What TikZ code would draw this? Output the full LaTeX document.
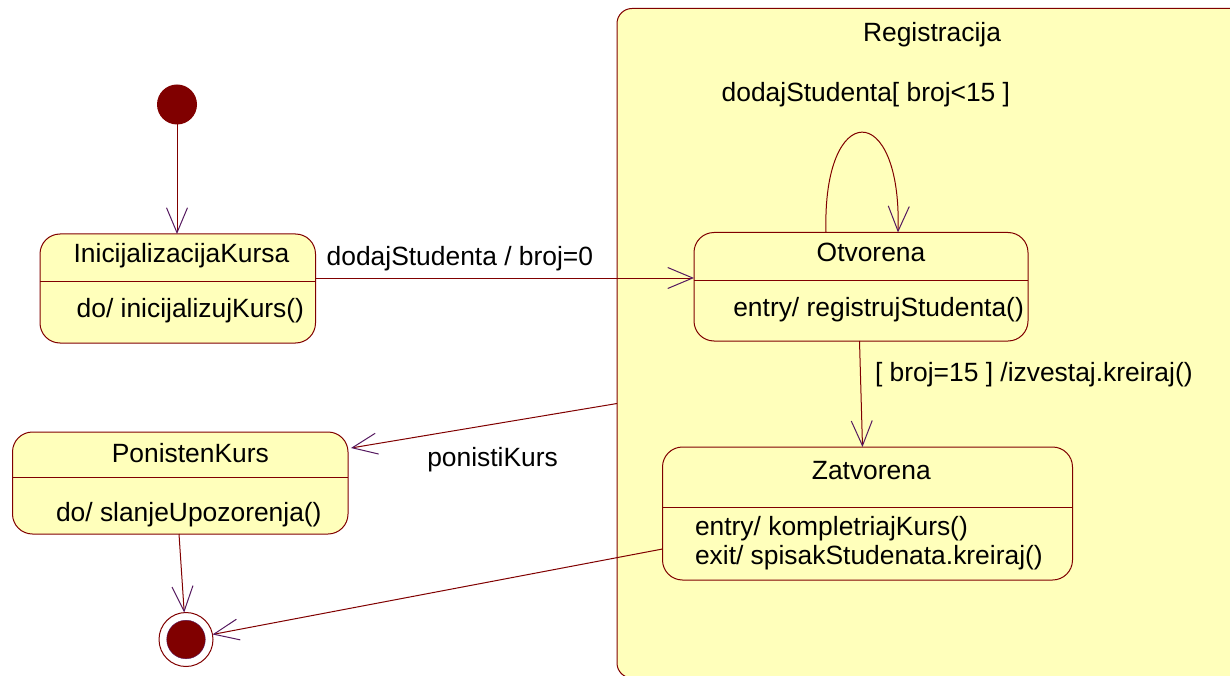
\documentclass[tikz,border=0pt]{standalone}
\usepackage{fontspec}
\setmainfont{Liberation Sans}
\usetikzlibrary{arrows.meta}

\definecolor{umlred}{RGB}{128,0,0}
\definecolor{umlfill}{RGB}{255,255,187}
\definecolor{tipcol}{RGB}{85,25,95}

\begin{document}
\begin{tikzpicture}[x=1pt, y=-1pt,
  txt/.style={inner sep=0, outer sep=0, font=\fontsize{26.4}{30}\selectfont},
  statebox/.style={draw=umlred, fill=umlfill, line width=1pt, rounded corners=20pt, outer sep=0},
  region/.style={draw=umlred, fill=umlfill, line width=1pt, rounded corners=15pt, outer sep=0},
  divider/.style={umlred, line width=1pt},
  trans/.style={umlred, line width=1pt, -{Straight Barb[length=25pt, width=21pt, color=tipcol]}}]
%% page frame
\useasboundingbox (0,0) rectangle (1230,676);
\clip (0,0) rectangle (1230,676);
%% composite state (runs off the page right and below)
\node[region, minimum width=633pt, minimum height=669.5pt] (reg) at (933.5,343.25) {};
\node[txt, anchor=base] (regname) at (932,42) {Registracija};
%% initial and final pseudo states
\node[circle, fill=umlred, minimum size=40pt, inner sep=0, outer sep=0] (start) at (177,104.5) {};
\node[circle, draw=umlred, fill=white, line width=1pt, minimum size=54pt, inner sep=0, outer sep=0] (end) at (186,639.5) {};
\filldraw[fill=umlred, draw=tipcol] (end.center) circle (19.3);
%% InicijalizacijaKursa
\node[statebox, minimum width=275.5pt, minimum height=109pt] (init) at (177.75,288.5) {};
\draw[divider] (init.west |- 0,281) -- (init.east |- 0,281);
\node[txt, anchor=base] (initname) at (181.5,262.3) {InicijalizacijaKursa};
\node[txt, anchor=base west] (initdo) at (76.7,317.3) {do/ inicijalizujKurs()};
%% Otvorena
\node[statebox, minimum width=334pt, minimum height=108.5pt] (otv) at (861,286.75) {};
\draw[divider] (otv.west |- 0,280) -- (otv.east |- 0,280);
\node[txt, anchor=base] (otvname) at (871,261.7) {Otvorena};
\node[txt, anchor=base west] (otventry) at (733.3,316) {entry/ registrujStudenta()};
%% Zatvorena
\node[statebox, minimum width=410pt, minimum height=133pt] (zat) at (867.5,513.5) {};
\draw[divider] (zat.west |- 0,507.5) -- (zat.east |- 0,507.5);
\node[txt, anchor=base] (zatname) at (871.3,479.3) {Zatvorena};
\node[txt, anchor=base west] (zatentry) at (695,535.7) {entry/ kompletriajKurs()};
\node[txt, anchor=base west] (zatexit) at (695,564) {exit/ spisakStudenata.kreiraj()};
%% PonistenKurs
\node[statebox, minimum width=335.5pt, minimum height=102pt] (pon) at (180.25,483) {};
\draw[divider] (pon.west |- 0,477) -- (pon.east |- 0,477);
\node[txt, anchor=base] (ponname) at (190.3,462.7) {PonistenKurs};
\node[txt, anchor=base west] (pondo) at (56,521.7) {do/ slanjeUpozorenja()};
%% transitions
\draw[trans] (start) -- (start |- init.north);
\draw[trans] (init.east |- 0,278) -- (otv.west |- 0,278);
\node[txt, anchor=base west] (lbladd) at (326.7,265.7) {dodajStudenta / broj=0};
\draw[trans] (otv.north -| 826,0) .. controls (822,99) and (902,99) .. (otv.north -| 898,0);
\node[txt, anchor=base west] (lblloop) at (721.7,101.7) {dodajStudenta[ broj<15 ]};
\draw[trans] (otv.south -| 859.5,0) -- (zat.north -| 862.5,0);
\node[txt, anchor=base west] (lblfull) at (875,381.7) {[ broj=15 ] /izvestaj.kreiraj()};
\draw[trans, shorten >=3pt] (reg.west |- 0,403.5) -- (pon.east |- 0,448.5);
\node[txt, anchor=base west] (lblcancel) at (427.3,466) {ponistiKurs};
\draw[trans] (pon.south -| 179,0) -- (end);
\draw[trans] (zat.west |- 0,549) -- (end);
\end{tikzpicture}
\end{document}
